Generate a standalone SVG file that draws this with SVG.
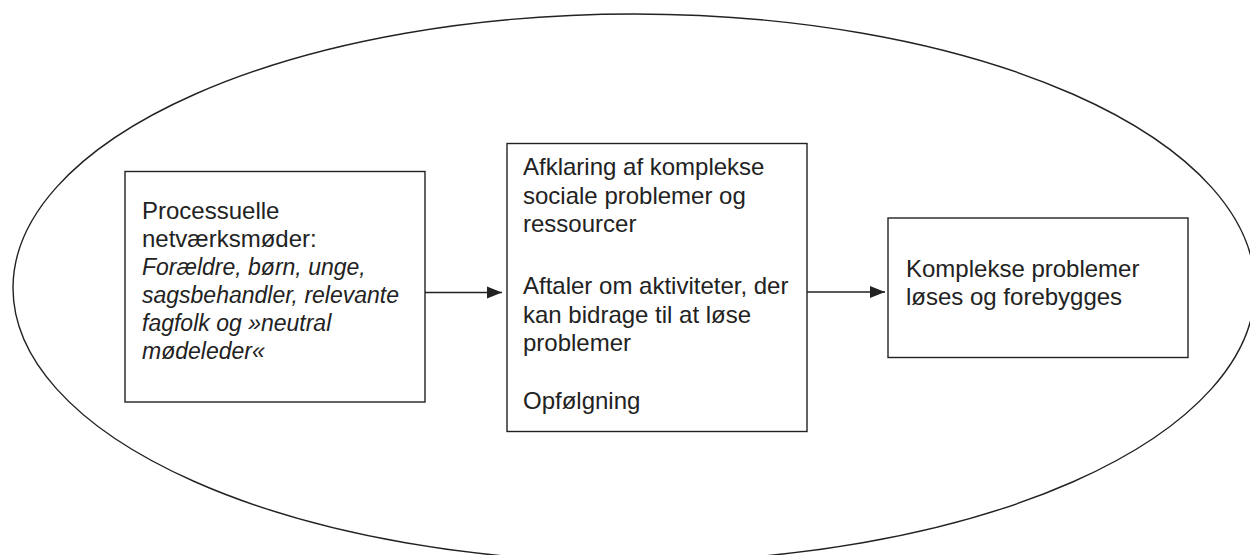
<svg xmlns="http://www.w3.org/2000/svg" width="1250" height="555" viewBox="0 0 1250 555">
  <style>
    .frame { fill: none; stroke: #222; stroke-width: 1.4; }
    .box { fill: #fff; stroke: #222; stroke-width: 1.4; }
    .edge { fill: none; stroke: #222; stroke-width: 1.3; }
    .label { font-family: "Liberation Sans", Arial, Helvetica, sans-serif; font-size: 24px; fill: #222; }
    .it { font-style: italic; font-size: 23px; }
  </style>
  <defs>
    <marker id="arrow" markerWidth="16" markerHeight="13" refX="15" refY="6.5" orient="auto" markerUnits="userSpaceOnUse">
      <path d="M0,0.5 L15,6.5 L0,12.5 Z" fill="#222"/>
    </marker>
  </defs>
  <rect width="1250" height="555" fill="#fff"/>

  <!-- enclosing ellipse -->
  <ellipse class="frame" cx="634" cy="288" rx="621" ry="274"/>

  <!-- connectors -->
  <g id="connectors">
    <line class="edge" x1="425" y1="292.5" x2="502" y2="292.5" marker-end="url(#arrow)"/>
    <line class="edge" x1="807" y1="292" x2="885" y2="292" marker-end="url(#arrow)"/>
  </g>

  <g id="node-meetings">
    <rect class="box" x="125" y="171.5" width="300" height="230.5"/>
    <text class="label" x="142" y="219">Processuelle</text>
    <text class="label" x="142" y="247">netværksmøder:</text>
    <text class="label it" x="142" y="275">Forældre, børn, unge,</text>
    <text class="label it" x="142" y="303">sagsbehandler, relevante</text>
    <text class="label it" x="142" y="331">fagfolk og »neutral</text>
    <text class="label it" x="142" y="359">mødeleder«</text>
  </g>

  <g id="node-clarification">
    <rect class="box" x="507" y="143.5" width="300" height="288"/>
    <text class="label" x="523" y="175">Afklaring af komplekse</text>
    <text class="label" x="523" y="203.5">sociale problemer og</text>
    <text class="label" x="523" y="232">ressourcer</text>
    <text class="label" x="523" y="294">Aftaler om aktiviteter, der</text>
    <text class="label" x="523" y="322.5">kan bidrage til at løse</text>
    <text class="label" x="523" y="351">problemer</text>
    <text class="label" x="523" y="408.5">Opfølgning</text>
  </g>

  <g id="node-outcome">
    <rect class="box" x="888" y="218" width="300" height="139.5"/>
    <text class="label" x="906" y="277">Komplekse problemer</text>
    <text class="label" x="906" y="305">løses og forebygges</text>
  </g>
</svg>
